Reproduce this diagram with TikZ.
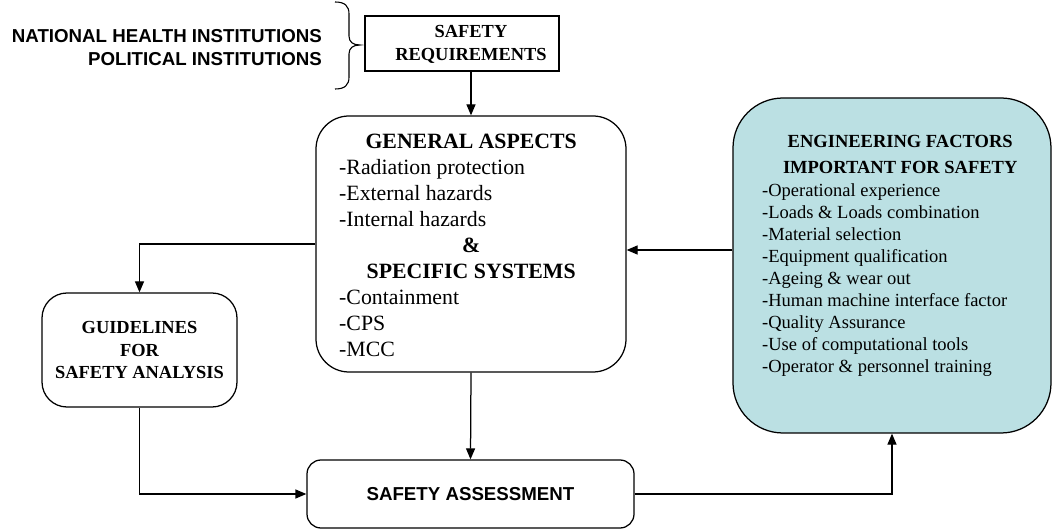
\documentclass[tikz,border=0pt]{standalone}
\usepackage{fontspec}
\setmainfont{Liberation Serif}
\newfontfamily\sansfam{Liberation Sans}
\usetikzlibrary{arrows.meta}
\definecolor{panelcyan}{RGB}{187,224,227}
\begin{document}
\begin{tikzpicture}[x=1pt,y=-1pt,
  box/.style={draw, line width=1.25pt, inner sep=0pt, align=center},
  conn/.style={line width=1.25pt, -{Triangle[length=11pt,width=9pt]}},
  serifhead/.style={font=\fontsize{18.4pt}{22.5pt}\selectfont\bfseries},
  sanshead/.style={font=\fontsize{18.7pt}{23.5pt}\selectfont\sansfam\bfseries}]
\useasboundingbox (0,0) rectangle (1053,529);

% issuing bodies and the brace that groups them
\node[sanshead, align=right, anchor=east, inner sep=0pt] (bodies) at (322,47.7)
  {NATIONAL HEALTH INSTITUTIONS\\POLITICAL INSTITUTIONS};
\draw[line width=1.1pt] (335,2) .. controls (345,2) and (349,6) .. (349,14)
  -- (349,36) .. controls (349,42) and (353,45) .. (360,45)
  .. controls (353,45) and (349,48) .. (349,54)
  -- (349,77) .. controls (349,85) and (345,89) .. (335,89);

% boxes
\node[box, minimum width=194pt, minimum height=55pt] (sr) at (462,43.5) {};
\node[serifhead, align=center, inner sep=0pt] (srtext) at (471,44.5)
  {SAFETY\\REQUIREMENTS};

\node[box, rounded corners=33pt, minimum width=310pt, minimum height=256pt] (gen) at (471,244) {};
\node[anchor=base west, inner sep=0pt] (gentext) at (339,149) {\parbox[t]{264pt}{%
  \fontsize{21.8pt}{25.9pt}\selectfont
  \centerline{\bfseries GENERAL ASPECTS}
  -Radiation protection\par
  -External hazards\par
  -Internal hazards\par
  \centerline{\bfseries\&}
  \centerline{\bfseries SPECIFIC SYSTEMS}
  -Containment\par
  -CPS\par
  -MCC}};

\node[box, rounded corners=50pt, fill=panelcyan, minimum width=318pt, minimum height=335pt] (ef) at (892,265.5) {};
\node[anchor=base west, inner sep=0pt] (eftext) at (762,148) {\parbox[t]{276pt}{%
  \fontsize{18.5pt}{22.05pt}\selectfont
  \centerline{\bfseries ENGINEERING FACTORS}
  \vspace{3pt}
  \centerline{\bfseries IMPORTANT FOR SAFETY}
  \vspace{1.5pt}
  -Operational experience\par
  -Loads \& Loads combination\par
  -Material selection\par
  -Equipment qualification\par
  -Ageing \& wear out\par
  -Human machine interface factor\par
  -Quality Assurance\par
  -Use of computational tools\par
  -Operator \& personnel training}};

\node[box, serifhead, rounded corners=25pt, minimum width=195pt, minimum height=114pt] (gd) at (139.5,350)
  {GUIDELINES\\FOR\\SAFETY ANALYSIS};

\node[box, sanshead, rounded corners=14pt, minimum width=327pt, minimum height=68pt] (sa) at (470.5,494)
  {SAFETY ASSESSMENT};

% connectors
\coordinate (feed) at (0,250);
\draw[conn] (gen.north |- sr.south) -- (gen.north);
\draw[conn] (gen.west) -| (gd.north);
\draw[conn] (gd.south) |- (sa.west);
\draw[conn] (gen.south) -- (sa.north);
\draw[conn] (sa.east) -| (ef.south);
\draw[conn] (ef.west |- feed) -- (gen.east |- feed);
\end{tikzpicture}
\end{document}
